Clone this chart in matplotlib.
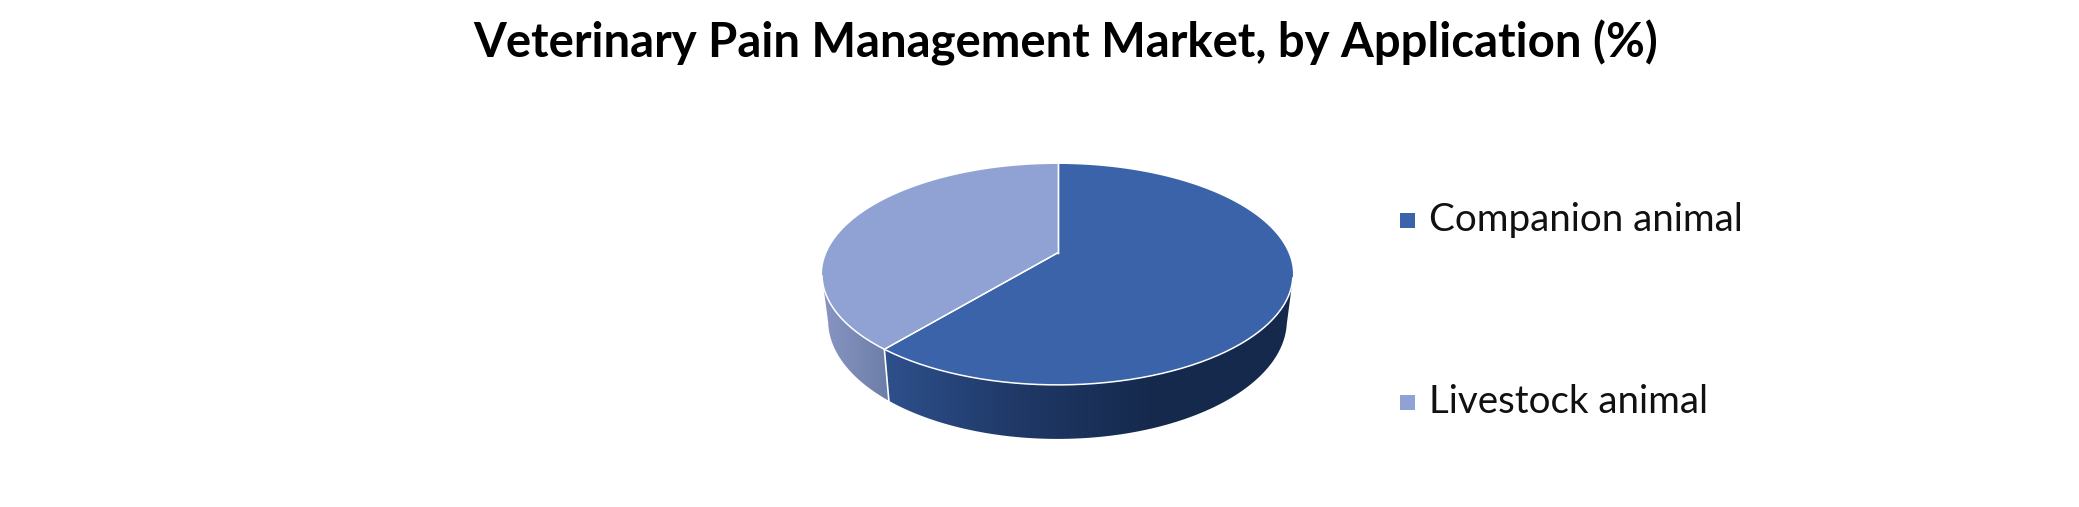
import numpy as np
import matplotlib
matplotlib.use("Agg")
import matplotlib.pyplot as plt
from matplotlib.colors import LinearSegmentedColormap
from matplotlib.patches import Polygon, Rectangle

title = "Veterinary Pain Management Market, by Application (%)"
labels = ["Companion animal", "Livestock animal"]
shares = [61, 39]
top_colors = ["#3b63a9", "#8fa2d3"]
side_colors = [["#2e508c", "#1f3866", "#15294c", "#15294c"], ["#8895c2", "#6c7ea8"]]

plt.rcParams["font.family"] = ["Lato", "DejaVu Sans"]

# pixel axes, y goes down like the picture
fig = plt.figure(figsize=(20.79, 5.07), dpi=100)
ax = fig.add_axes([0, 0, 1, 1])
ax.set_xlim(0, 2079)
ax.set_ylim(507, 0)
ax.axis("off")

cx = 1057.5
cy = 253
k = 0.194


def top_rim(t):
    u, v = np.sin(t), np.cos(t)
    return cx + 231 * u / (1 + k * v), cy - 106.3 * v / (1 + k * v)


def low_rim(t):
    u, v = np.sin(t), np.cos(t)
    return cx + 225 * u / (1 + k * v), 297.6 - 113.9 * v / (1 + k * v)


cut = 2 * np.pi * shares[0] / sum(shares)
start, stop = np.radians(103), np.radians(258)

# side walls, each a gradient clipped to the wall shape
walls = [(start, min(cut, stop)), (cut, stop)]
for (a, b), cols in zip(walls, side_colors):
    t = np.linspace(a, b, 150)
    x1, y1 = top_rim(t)
    x2, y2 = low_rim(t[::-1])
    poly = Polygon(np.column_stack([np.r_[x1, x2], np.r_[y1, y2]]), closed=True,
                   fc="none", ec="none")
    ax.add_patch(poly)
    cmap = LinearSegmentedColormap.from_list("side", cols)
    x0, x3 = min(x1.min(), x2.min()), max(x1.max(), x2.max())
    im = ax.imshow(np.linspace(0, 1, 256).reshape(1, -1), cmap=cmap, aspect="auto",
                   extent=[x0, x3, y2.max(), y1.min()], zorder=1)
    im.set_clip_path(poly)

ax.set_xlim(0, 2079)
ax.set_ylim(507, 0)

# edge line between the two walls
ex = [top_rim(cut)[0], low_rim(cut)[0]]
ey = [top_rim(cut)[1], low_rim(cut)[1]]
ax.plot(ex, ey, color="white", lw=1.2, zorder=2)

# top face
ends = np.cumsum([0] + shares) / sum(shares) * 2 * np.pi
for i, col in enumerate(top_colors):
    t = np.linspace(ends[i], ends[i + 1], 300)
    x, y = top_rim(t)
    ax.fill(np.r_[cx, x], np.r_[cy, y], color=col, lw=0, zorder=3)
    ax.plot(np.r_[cx, x[0]], np.r_[cy, y[0]], color="white", lw=1, zorder=4)
    ax.plot(np.r_[cx, x[-1]], np.r_[cy, y[-1]], color="white", lw=1, zorder=4)

t = np.linspace(start, stop, 200)
x, y = top_rim(t)
ax.plot(x, y, color="white", lw=1.1, zorder=4)

ax.text(1066, 43, title, fontsize=34, fontweight="bold", ha="center", va="center", color="#000000")

for lab, col, ly in zip(labels, top_colors, [220, 402]):
    ax.add_patch(Rectangle((1400, ly - 7.5), 15, 15, fc=col, ec="none"))
    ax.text(1429, ly, lab, fontsize=27.7, ha="left", va="center", color="#111111")

fig.savefig("out.png", dpi=100)
